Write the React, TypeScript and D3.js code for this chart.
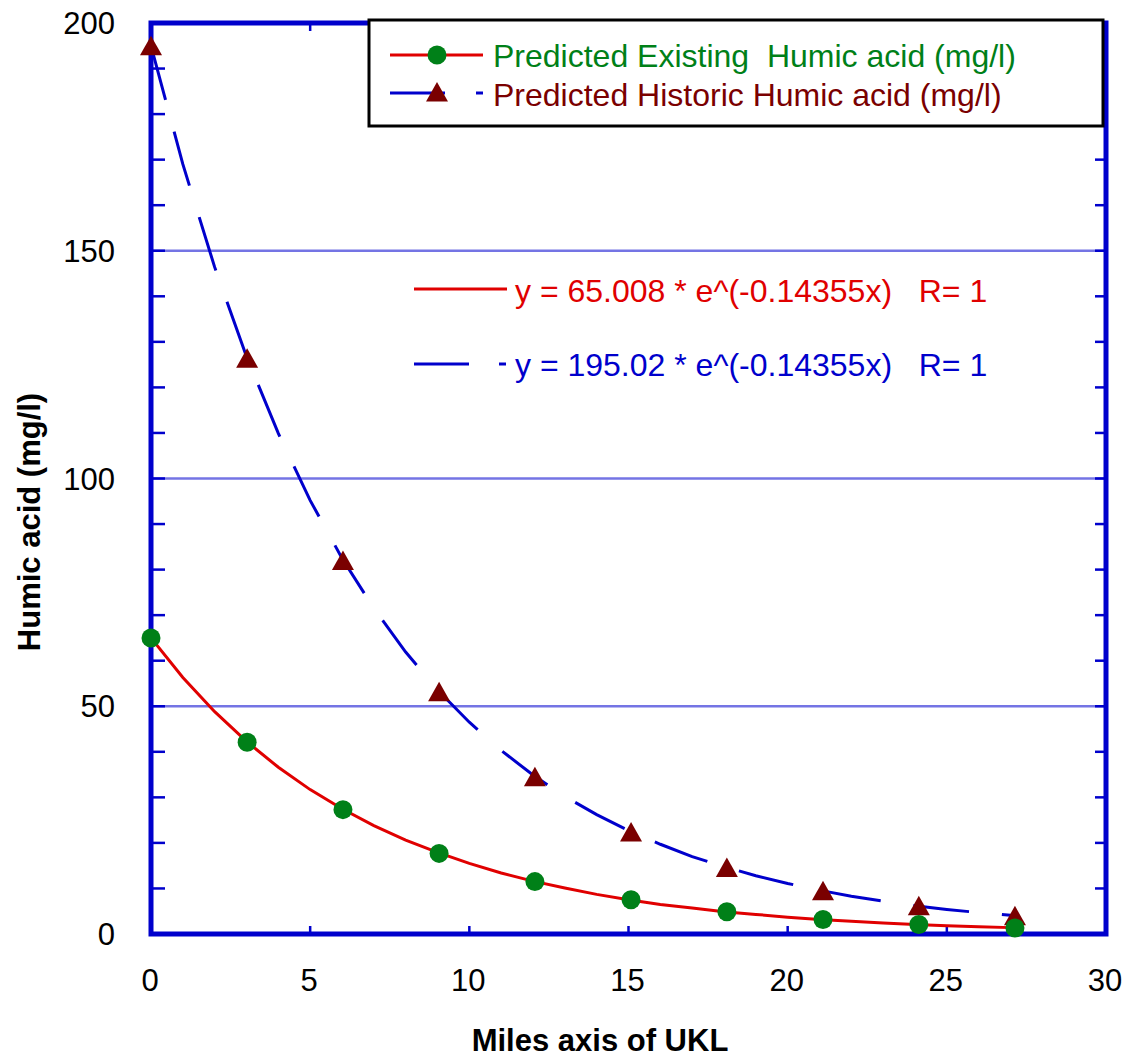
import React, { useEffect, useRef } from "react";
import * as d3 from "d3";

// Marker data (miles, mg/l)
const markerMiles = [0, 3.02, 6.03, 9.05, 12.06, 15.08, 18.09, 21.11, 24.12, 27.14];
const existingHumic = [65.0, 42.1, 27.3, 17.7, 11.5, 7.5, 4.9, 3.2, 2.1, 1.3];
const historicHumic = [195.0, 126.4, 82.0, 53.2, 34.5, 22.4, 14.6, 9.5, 6.2, 4.0];

// Fitted curve samples
const curveMiles = [0, 1, 2, 3, 4, 5, 6, 7, 8, 9, 10, 11, 12, 13, 14, 15, 16, 17, 18, 19, 20, 21, 22, 23, 24, 25, 26, 27, 27.14];
const existingFit = [65.0, 56.3, 48.8, 42.3, 36.6, 31.7, 27.5, 23.8, 20.6, 17.9, 15.5, 13.4, 11.6, 10.1, 8.7, 7.5, 6.5, 5.7, 4.9, 4.3, 3.7, 3.2, 2.8, 2.4, 2.1, 1.8, 1.6, 1.4, 1.3];
const historicFit = [195.0, 169.0, 146.4, 126.8, 109.9, 95.2, 82.5, 71.5, 61.9, 53.6, 46.5, 40.3, 34.9, 30.2, 26.2, 22.7, 19.7, 17.0, 14.8, 12.8, 11.1, 9.6, 8.3, 7.2, 6.2, 5.4, 4.7, 4.1, 4.0];

const xTicks = [0, 5, 10, 15, 20, 25, 30];
const yTicks = [0, 50, 100, 150, 200];
const yMinorTicks = [10, 20, 30, 40, 60, 70, 80, 90, 110, 120, 130, 140, 160, 170, 180, 190];
const gridValues = [50, 100, 150];

const legendLabels = ["Predicted Existing  Humic acid (mg/l)", "Predicted Historic Humic acid (mg/l)"];
const fitLabels = ["y = 65.008 * e^(-0.14355x)   R= 1", "y = 195.02 * e^(-0.14355x)   R= 1"];

const W = 1131;
const H = 1061;
const left = 151;
const right = 1106;
const top = 23;
const bottom = 934;

const AXIS = "#0000cc";
const RED = "#e00000";
const BLUE = "#0000cc";
const GREEN = "#008018";
const MAROON = "#7a0000";
const FONT = "Liberation Sans, Arial, sans-serif";
const TRI = "M0,-10L11,9.5L-11,9.5Z";

export default function App() {
  const ref = useRef<SVGSVGElement>(null);

  useEffect(() => {
    const svg = d3.select(ref.current);
    svg.selectAll("*").remove();

    const x = d3.scaleLinear().domain([0, 30]).range([left, right]);
    const y = d3.scaleLinear().domain([0, 200]).range([bottom, top]);

    // gridlines
    svg.append("g").selectAll("line").data(gridValues).join("line")
      .attr("x1", left).attr("x2", right)
      .attr("y1", (d) => y(d)).attr("y2", (d) => y(d))
      .attr("stroke", "#7474e4").attr("stroke-width", 2.5);

    // ticks
    const tg = svg.append("g").attr("stroke", AXIS).attr("stroke-width", 2.5);
    const allY = [...yMinorTicks, ...gridValues];
    tg.selectAll("line.yl").data(allY).join("line")
      .attr("x1", left).attr("x2", left + 14)
      .attr("y1", (d) => y(d)).attr("y2", (d) => y(d));
    tg.selectAll("line.yr").data(allY).join("line")
      .attr("x1", right - 11).attr("x2", right)
      .attr("y1", (d) => y(d)).attr("y2", (d) => y(d));
    const innerX = xTicks.slice(1, -1);
    tg.selectAll("line.xb").data(innerX).join("line")
      .attr("x1", (d) => x(d)).attr("x2", (d) => x(d))
      .attr("y1", bottom).attr("y2", bottom - 8);
    tg.selectAll("line.xt").data(innerX).join("line")
      .attr("x1", (d) => x(d)).attr("x2", (d) => x(d))
      .attr("y1", top).attr("y2", top + 8);

    // tick labels
    svg.append("g").selectAll("text").data(yTicks).join("text")
      .attr("x", 115).attr("y", (d) => y(d) + 11)
      .attr("text-anchor", "end").attr("font-family", FONT).attr("font-size", 31)
      .text((d) => d);
    svg.append("g").selectAll("text").data(xTicks).join("text")
      .attr("x", (d) => x(d) - 1).attr("y", 991)
      .attr("text-anchor", "middle").attr("font-family", FONT).attr("font-size", 31)
      .text((d) => d);

    // axis titles
    svg.append("text")
      .attr("x", 600).attr("y", 1051).attr("text-anchor", "middle")
      .attr("font-family", FONT).attr("font-size", 31).attr("font-weight", "bold")
      .text("Miles axis of UKL");
    svg.append("text")
      .attr("transform", `translate(40,522) rotate(-90)`).attr("text-anchor", "middle")
      .attr("font-family", FONT).attr("font-size", 31).attr("font-weight", "bold")
      .text("Humic acid (mg/l)");

    // curves
    const line = d3.line<[number, number]>().x((d) => x(d[0])).y((d) => y(d[1]));
    const redPts = curveMiles.map((m, i) => [m, existingFit[i]] as [number, number]);
    const bluePts = curveMiles.map((m, i) => [m, historicFit[i]] as [number, number]);
    svg.append("path").attr("d", line(bluePts)!).attr("fill", "none")
      .attr("stroke", BLUE).attr("stroke-width", 3).attr("stroke-dasharray", "56,33");
    svg.append("path").attr("d", line(redPts)!).attr("fill", "none")
      .attr("stroke", RED).attr("stroke-width", 3);

    // frame
    svg.append("rect").attr("x", left).attr("y", top).attr("width", right - left).attr("height", bottom - top)
      .attr("fill", "none").attr("stroke", AXIS).attr("stroke-width", 5);

    // markers
    svg.append("g").selectAll("path").data(markerMiles).join("path")
      .attr("d", TRI)
      .attr("transform", (d, i) => `translate(${x(d)},${y(historicHumic[i])})`)
      .attr("fill", MAROON);
    svg.append("g").selectAll("circle").data(markerMiles).join("circle")
      .attr("cx", (d) => x(d)).attr("cy", (d, i) => y(existingHumic[i]))
      .attr("r", 9.5).attr("fill", GREEN);

    // legend
    const lg = svg.append("g");
    lg.append("rect").attr("x", 369).attr("y", 20).attr("width", 734).attr("height", 106)
      .attr("fill", "white").attr("stroke", "black").attr("stroke-width", 3);
    lg.append("line").attr("x1", 390).attr("x2", 483).attr("y1", 55).attr("y2", 55)
      .attr("stroke", RED).attr("stroke-width", 3);
    lg.append("circle").attr("cx", 437).attr("cy", 55).attr("r", 9.5).attr("fill", GREEN);
    lg.append("line").attr("x1", 390).attr("x2", 445).attr("y1", 93).attr("y2", 93)
      .attr("stroke", BLUE).attr("stroke-width", 3);
    lg.append("line").attr("x1", 476).attr("x2", 483).attr("y1", 93).attr("y2", 93)
      .attr("stroke", BLUE).attr("stroke-width", 3);
    lg.append("path").attr("d", TRI).attr("transform", "translate(437,92)").attr("fill", MAROON);
    lg.append("text").attr("x", 493).attr("y", 67).attr("font-family", FONT).attr("font-size", 32)
      .attr("fill", GREEN).style("white-space", "pre").text(legendLabels[0]);
    lg.append("text").attr("x", 493).attr("y", 106).attr("font-family", FONT).attr("font-size", 32)
      .attr("fill", MAROON).style("white-space", "pre").text(legendLabels[1]);

    // fit equations
    const fg = svg.append("g");
    fg.append("line").attr("x1", 414).attr("x2", 507).attr("y1", 289).attr("y2", 289)
      .attr("stroke", RED).attr("stroke-width", 3);
    fg.append("line").attr("x1", 414).attr("x2", 469).attr("y1", 364).attr("y2", 364)
      .attr("stroke", BLUE).attr("stroke-width", 3);
    fg.append("line").attr("x1", 499).attr("x2", 506).attr("y1", 364).attr("y2", 364)
      .attr("stroke", BLUE).attr("stroke-width", 3);
    fg.append("text").attr("x", 515).attr("y", 302).attr("font-family", FONT).attr("font-size", 32)
      .attr("fill", RED).style("white-space", "pre").text(fitLabels[0]);
    fg.append("text").attr("x", 515).attr("y", 376).attr("font-family", FONT).attr("font-size", 32)
      .attr("fill", BLUE).style("white-space", "pre").text(fitLabels[1]);
  }, []);

  return (
    <svg ref={ref} width={W} height={H} style={{ position: "absolute", left: 0, top: 0, background: "white" }} />
  );
}
